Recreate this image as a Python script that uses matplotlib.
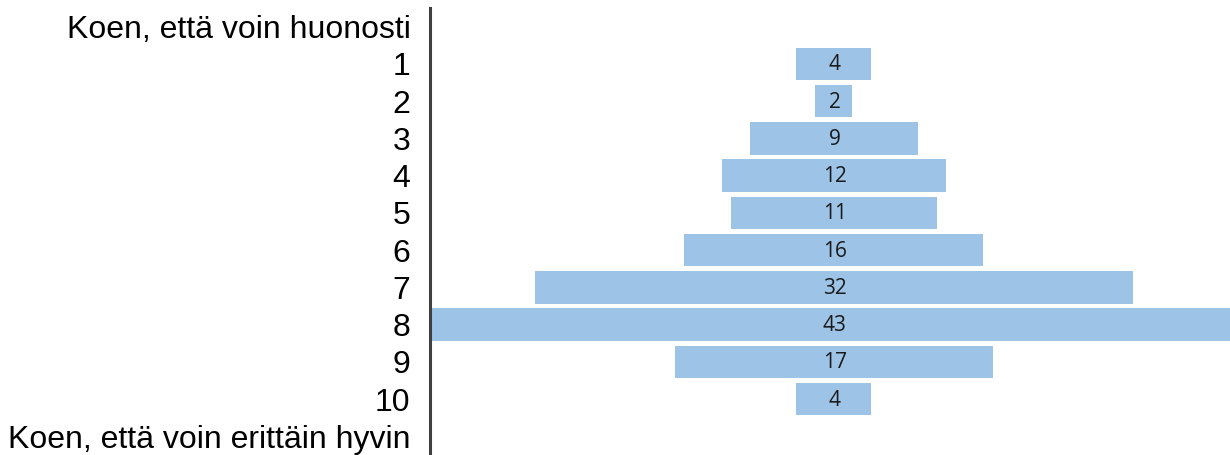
import matplotlib.pyplot as plt

# Survey answers: how well do you feel (1-10), count of respondents
row_labels = ['Koen, että voin huonosti', '1', '2', '3', '4', '5', '6', '7',
              '8', '9', '10', 'Koen, että voin erittäin hyvin']
scores = list(range(1, 11))
counts = [4, 2, 9, 12, 11, 16, 32, 43, 17, 4]

bar_color = '#9dc3e6'

fig = plt.figure(figsize=(12.3, 4.55), dpi=100)
ax = fig.add_axes([430 / 1230, 0, 800 / 1230, 447 / 455])

# centred bars, one per score (rows 1..10)
for score, n in zip(scores, counts):
    ax.barh(score, n, left=-n / 2, height=0.87, color=bar_color, edgecolor='none')
    ax.text(0.05, score + 0.03, str(n), ha='center', va='center',
            fontsize=15, family='Open Sans', color='#1a1a1a')

ax.set_xlim(-21.6, 21.2)
ax.set_ylim(len(row_labels) - 0.5, -0.5)

ax.set_yticks(range(len(row_labels)))
ax.set_yticklabels(row_labels, family='Liberation Sans', fontsize=23)
ax.tick_params(axis='y', length=0, pad=14)
ax.set_xticks([])

for side in ['top', 'right', 'bottom']:
    ax.spines[side].set_visible(False)
ax.spines['left'].set_color('#404040')
ax.spines['left'].set_linewidth(2.2)

fig.savefig('out.png', dpi=100)
